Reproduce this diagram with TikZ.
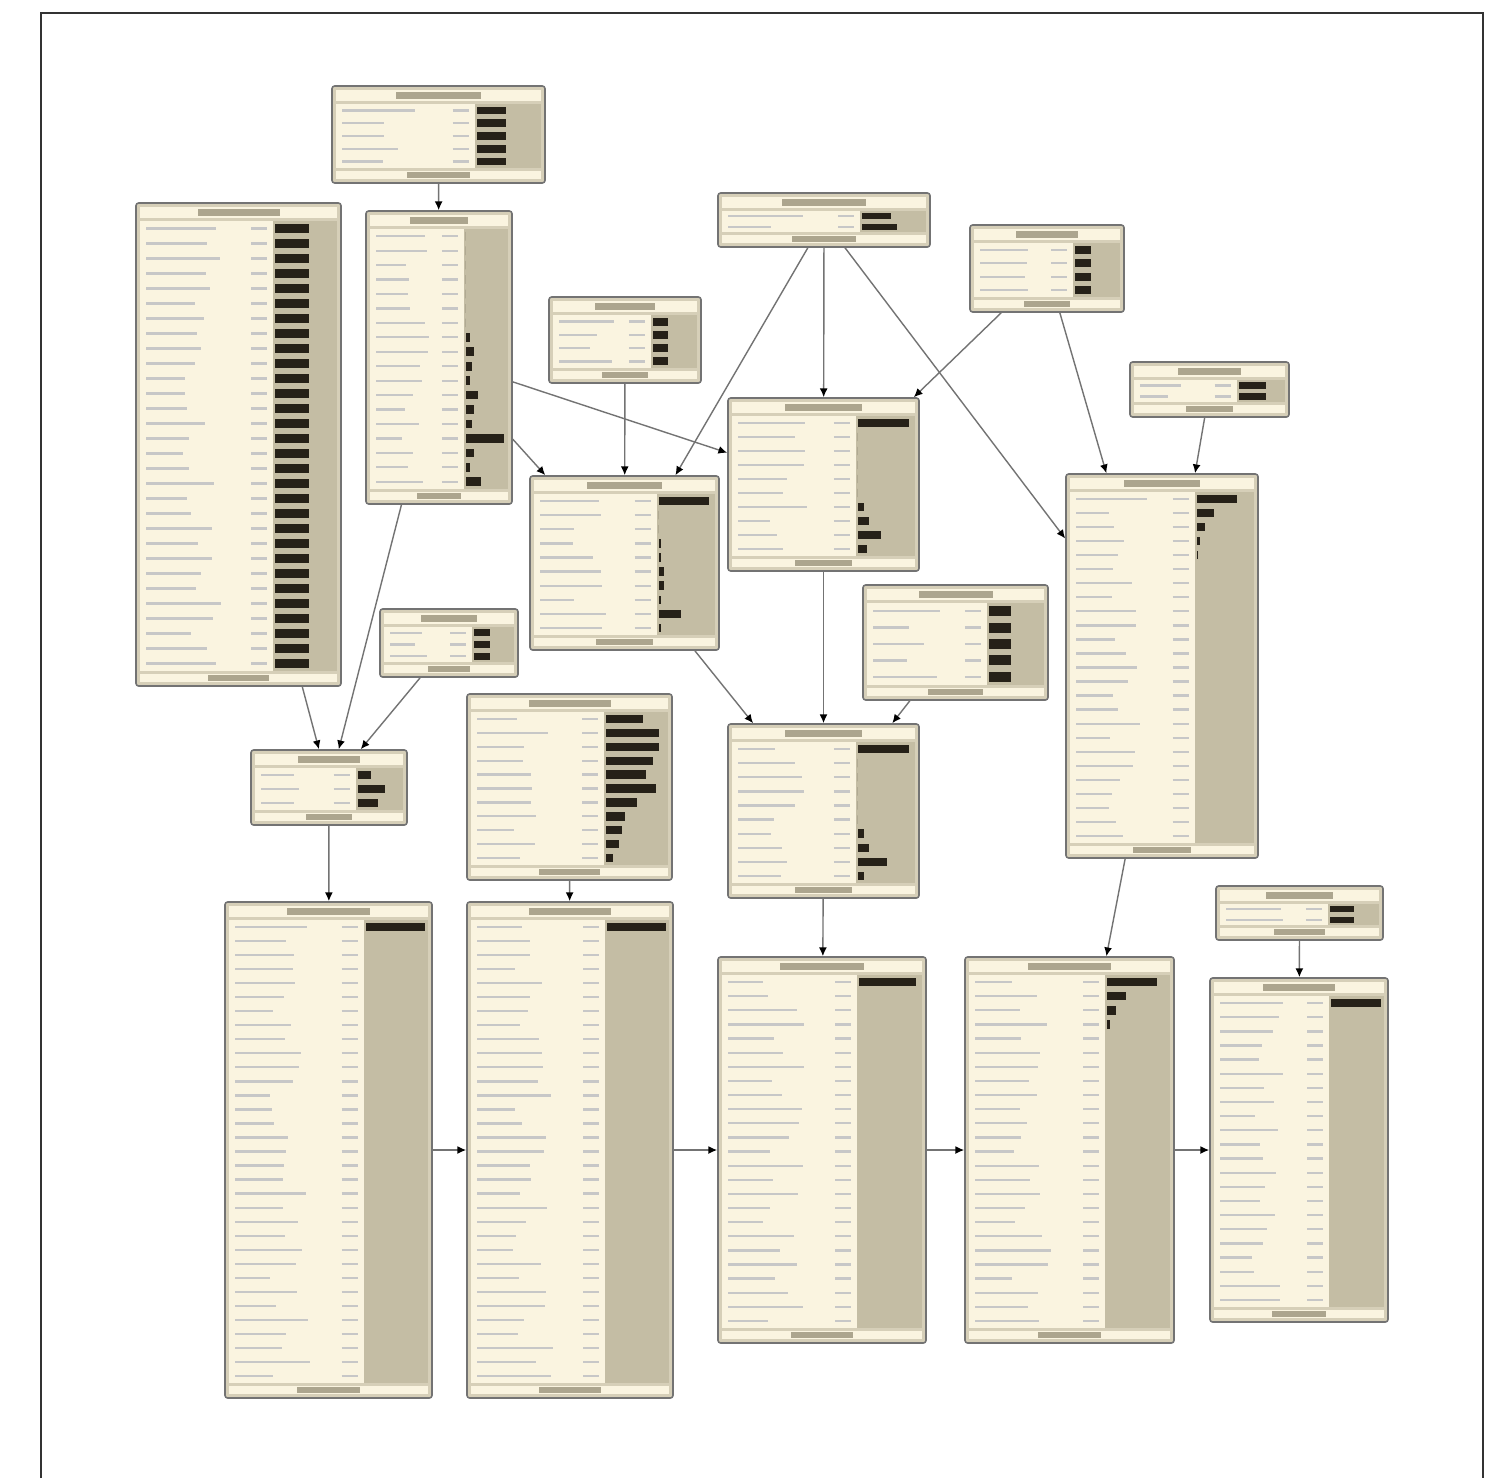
\documentclass[tikz,border=0pt]{standalone}
\usetikzlibrary{arrows.meta, fit}

\definecolor{boxrim}{RGB}{214,207,184}
\definecolor{paper}{RGB}{250,244,224}
\definecolor{barpanel}{RGB}{196,189,164}
\definecolor{titleink}{RGB}{172,165,142}
\definecolor{barink}{RGB}{38,33,24}

% one belief box: name, x1, y1, x2, y2, rows, bar lengths
\newcommand{\cpt}[7]{%
  \node[cpt_box, fit={(#2,#3) (#4,#5)}] (#1) {};
  \pgfmathsetmacro{\xs}{#2+0.67*(#4-#2)}
  \pgfmathsetmacro{\rh}{(#5-#3-33)/#6}
  \fill[paper] (#2+4,#3+4) rectangle (#4-4,#3+15);
  \fill[titleink] ({#2+0.3*(#4-#2)},#3+6) rectangle ({#2+0.7*(#4-#2)},#3+13);
  \fill[paper] (#2+4,#3+18) rectangle (\xs,#5-15);
  \fill[barpanel] (\xs,#3+18) rectangle (#4-4,#5-15);
  \fill[paper] (#2+4,#5-12) rectangle (#4-4,#5-4);
  \fill[titleink] ({#2+0.35*(#4-#2)},#5-11) rectangle ({#2+0.65*(#4-#2)},#5-5);
  \foreach \i in {1,...,#6} {
    \pgfmathsetmacro{\yc}{#3+18+(\i-0.5)*\rh}
    \pgfmathsetmacro{\tl}{#2+10+(0.25+0.3*rnd)*(\xs-#2)}
    \draw[smudge] (#2+10,\yc) -- (\tl,\yc);
    \draw[smudge] (\xs-22,\yc) -- (\xs-6,\yc);
  }
  \foreach \bl [count=\i] in {#7} {
    \pgfmathsetmacro{\yc}{#3+18+(\i-0.5)*\rh}
    \fill[barink] (\xs+2,\yc-0.3*\rh) rectangle ({\xs+2+\bl*(#4-6-\xs)},\yc+0.3*\rh);
  }
}

\begin{document}
\begin{tikzpicture}[
    x=0.02cm, y=-0.02cm,
    cpt_box/.style={draw=black!55, fill=boxrim, line width=0.9pt, rounded corners=1.5pt, inner sep=0pt},
    smudge/.style={draw=black!22, line width=1.3pt},
    link/.style={draw=black!55, line width=0.8pt, -{Latex[length=5pt,width=4.5pt,color=black]}}
]
\pgfmathsetseed{7}
\fill[white] (0,0) rectangle (1486,1478);
\useasboundingbox (0,0) rectangle (1486,1478);

% Frame
\draw[line width=1.6pt, black!80] (41,1478) -- (41,13) -- (1483,13) -- (1483,1478);

% Upper row of boxes
\cpt{cpt_a}{332}{86}{545}{183}{5}{0.45,0.45,0.45,0.45,0.45}
\cpt{cpt_b}{136}{203}{341}{686}{30}{0.55,0.55,0.55,0.55,0.55,0.55,0.55,0.55,0.55,0.55,0.55,0.55,0.55,0.55,0.55,0.55,0.55,0.55,0.55,0.55,0.55,0.55,0.55,0.55,0.55,0.55,0.55,0.55,0.55,0.55}
\cpt{cpt_c}{366}{211}{512}{504}{18}{0,0,0,0,0,0,0,0.1,0.2,0.15,0.1,0.3,0.2,0.15,0.9,0.2,0.1,0.35}
\cpt{cpt_d}{718}{193}{930}{247}{2}{0.45,0.55}
\cpt{cpt_e}{549}{297}{701}{383}{4}{0.35,0.35,0.35,0.35}
\cpt{cpt_f}{970}{225}{1124}{312}{4}{0.35,0.35,0.35,0.35}
\cpt{cpt_g}{1130}{362}{1289}{417}{2}{0.6,0.6}

% Middle boxes
\cpt{cpt_h}{728}{398}{919}{571}{10}{0.9,0,0,0,0,0,0.1,0.2,0.4,0.15}
\cpt{cpt_i}{530}{476}{719}{650}{10}{0.9,0,0,0.05,0.05,0.1,0.1,0.05,0.4,0.05}
\cpt{cpt_j}{1066}{474}{1258}{858}{25}{0.7,0.3,0.15,0.05,0.03}
\cpt{cpt_k}{380}{609}{518}{677}{3}{0.4,0.4,0.4}
\cpt{cpt_l}{863}{585}{1048}{700}{5}{0.4,0.4,0.4,0.4,0.4}
\cpt{cpt_m}{251}{750}{407}{825}{3}{0.3,0.6,0.45}
\cpt{cpt_n}{467}{694}{672}{880}{11}{0.6,0.85,0.85,0.75,0.65,0.8,0.5,0.3,0.25,0.2,0.1}
\cpt{cpt_o}{728}{724}{919}{898}{10}{0.9,0,0,0,0,0,0.1,0.2,0.5,0.1}
\cpt{cpt_p}{1216}{886}{1383}{940}{2}{0.5,0.5}

% Bottom row
\cpt{cpt_q}{225}{902}{432}{1398}{33}{0.95}
\cpt{cpt_r}{467}{902}{673}{1398}{33}{0.95}
\cpt{cpt_s}{718}{957}{926}{1343}{25}{0.9}
\cpt{cpt_t}{965}{957}{1174}{1343}{25}{0.8,0.3,0.15,0.05}
\cpt{cpt_u}{1210}{978}{1388}{1322}{22}{0.95}

% Links
\draw[link] (cpt_a) -- (cpt_c);
\draw[link] (cpt_d) -- (cpt_h);
\draw[link] (cpt_d) -- (cpt_i);
\draw[link] (cpt_d) -- (cpt_j);
\draw[link] (cpt_f) -- (cpt_h);
\draw[link] (cpt_f) -- (cpt_j);
\draw[link] (cpt_g) -- (cpt_j);
\draw[link] (cpt_e) -- (cpt_i);
\draw[link] (cpt_c) -- (cpt_i);
\draw[link] (cpt_c) -- (cpt_h);
\draw[link] (cpt_c) -- (cpt_m);
\draw[link] (cpt_b) -- (cpt_m);
\draw[link] (cpt_k) -- (cpt_m);
\draw[link] (cpt_m) -- (cpt_q);
\draw[link] (cpt_n) -- (cpt_r);
\draw[link] (cpt_i) -- (cpt_o);
\draw[link] (cpt_h) -- (cpt_o);
\draw[link] (cpt_l) -- (cpt_o);
\draw[link] (cpt_o) -- (cpt_s);
\draw[link] (cpt_j) -- (cpt_t);
\draw[link] (cpt_p) -- (cpt_u);
\draw[link] (cpt_q) -- (cpt_r);
\draw[link] (cpt_r) -- (cpt_s);
\draw[link] (cpt_s) -- (cpt_t);
\draw[link] (cpt_t) -- (cpt_u);

\end{tikzpicture}
\end{document}
